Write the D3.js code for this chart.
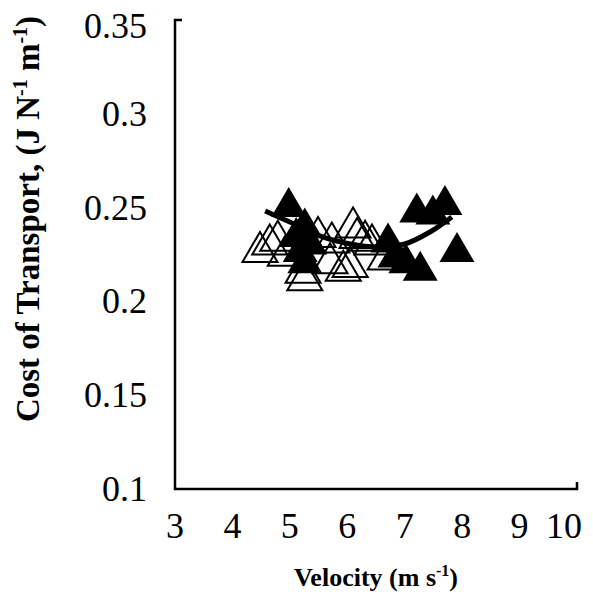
<!DOCTYPE html>
<html><head><meta charset="utf-8">
<script src="https://cdn.jsdelivr.net/npm/d3@7"></script>
<style>
html,body{margin:0;padding:0;background:#fff;}
svg{display:block;}
text{font-family:"Liberation Serif","Times New Roman",serif;fill:#000;}
</style></head>
<body>
<svg id="c" width="593" height="595"></svg>
<script>
// Filled triangles (one group of runs)
const filledX = [4.98, 5.26, 5.11, 5.18, 5.26, 5.35, 7.21, 7.49, 7.70, 7.91, 6.71, 6.83, 7.02, 7.27];
const filledY = [0.253, 0.242, 0.237, 0.229, 0.223, 0.233, 0.250, 0.249, 0.254, 0.229, 0.234, 0.226, 0.223, 0.219];
// Open triangles
const openX = [4.48, 4.65, 4.79, 4.92, 5.26, 5.23, 5.49, 5.73, 6.10, 6.17, 6.31, 6.43, 6.05, 5.70, 5.93, 6.66];
const openY = [0.229, 0.233, 0.235, 0.227, 0.214, 0.218, 0.237, 0.234, 0.242, 0.2365, 0.235, 0.233, 0.221, 0.223, 0.219, 0.225];
// Trend curve
const trendX = [4.57, 5.0, 5.52, 6.05, 6.53, 7.0, 7.44, 7.82];
const trendY = [0.2482, 0.2423, 0.2349, 0.2306, 0.2290, 0.2306, 0.2370, 0.2450];
// Ticks
const xTicks = [3, 4, 5, 6, 7, 8, 9, 10];
const yTicks = [0.1, 0.15, 0.2, 0.25, 0.3, 0.35];
const yTickLabels = ["0.1", "0.15", "0.2", "0.25", "0.3", "0.35"];

const svg = d3.select("#c");
const x = d3.scaleLinear().domain([3, 10]).range([175, 577]);
const y = d3.scaleLinear().domain([0.1, 0.35]).range([489, 20]);

const triW = 35, triH = 30;
function tri(cx, cy) {
  return `M${cx},${cy - triH/2}L${cx + triW/2},${cy + triH/2}L${cx - triW/2},${cy + triH/2}Z`;
}

// axes lines
svg.append("path")
  .attr("d", `M${x(3)+7},${y(0.35)}H${x(3)}V${y(0.1)}H${x(10)}V${y(0.1)-7}`)
  .attr("fill", "none").attr("stroke", "#000").attr("stroke-width", 2.5);

// y tick labels
svg.append("g").selectAll("text").data(yTicks).join("text")
  .attr("x", 147)
  .attr("y", d => Math.max(y(d), 26) + 12)
  .attr("text-anchor", "end")
  .attr("font-size", 36)
  .text((d, i) => yTickLabels[i]);

// x tick labels
svg.append("g").selectAll("text").data(xTicks).join("text")
  .attr("x", d => Math.min(x(d), 564))
  .attr("y", 538)
  .attr("text-anchor", "middle")
  .attr("font-size", 36)
  .text(d => d);

// filled triangles
svg.append("g").selectAll("path").data(d3.range(filledX.length)).join("path")
  .attr("d", i => tri(x(filledX[i]), y(filledY[i])))
  .attr("fill", "#000");

// open triangles
svg.append("g").selectAll("path").data(d3.range(openX.length)).join("path")
  .attr("d", i => tri(x(openX[i]), y(openY[i])))
  .attr("fill", "none").attr("stroke", "#000").attr("stroke-width", 2);

// trend line
const line = d3.line().x(i => x(trendX[i])).y(i => y(trendY[i])).curve(d3.curveCatmullRom);
svg.append("path").datum(d3.range(trendX.length))
  .attr("d", line).attr("fill", "none").attr("stroke", "#000").attr("stroke-width", 5);

// y title
const yt = svg.append("text")
  .attr("transform", "translate(39,219) rotate(-90)")
  .attr("text-anchor", "middle")
  .attr("font-size", 33).attr("font-weight", "bold");
yt.append("tspan").text("Cost of Transport, (J N");
yt.append("tspan").attr("font-size", 20).attr("dy", -12).text("-1");
yt.append("tspan").attr("dy", 12).text(" m");
yt.append("tspan").attr("font-size", 20).attr("dy", -12).text("-1");
yt.append("tspan").attr("dy", 12).text(")");

// x title
const xt = svg.append("text")
  .attr("x", 376).attr("y", 586)
  .attr("text-anchor", "middle")
  .attr("font-size", 26).attr("font-weight", "bold");
xt.append("tspan").text("Velocity (m s");
xt.append("tspan").attr("font-size", 16).attr("dy", -10).text("-1");
xt.append("tspan").attr("dy", 10).text(")");
</script>
</body></html>
